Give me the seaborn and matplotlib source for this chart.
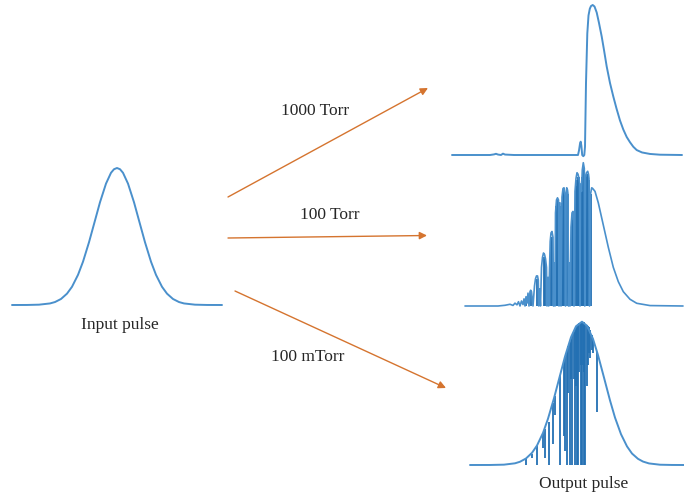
import numpy as np
import pandas as pd
import seaborn as sns
import matplotlib.pyplot as plt

# time axis in arbitrary units, amplitude normalised to each pulse's peak
input_t = [-105, -90, -78, -67, -62, -56, -50, -45, -39, -34, -28, -22, -17, -11, -6, -3, 0,
           3, 6, 11, 17, 22, 28, 34, 39, 45, 50, 56, 62, 67, 78, 90, 105]
input_amp = [0.0, 0.0003, 0.0024, 0.0114, 0.0216, 0.0439, 0.0829, 0.133, 0.220, 0.316, 0.458,
             0.617, 0.750, 0.886, 0.965, 0.991, 1.0, 0.991, 0.965, 0.886, 0.750, 0.617, 0.458,
             0.316, 0.220, 0.133, 0.0829, 0.0439, 0.0216, 0.0114, 0.0024, 0.0003, 0.0]

# 1000 Torr
out1_t = [-128, -90, -86, -84, -82, -79, -77, -75, -72, -66, -2, -1, 0.0, 0.7, 1.4, 2.2, 3.3,
          4.3, 5.0, 6.0, 7.3, 8.5, 9.8, 11, 12.7, 14.5, 16.7, 19, 21.7, 24, 26.7, 30, 33.3,
          36.5, 40, 43.3, 46.7, 50, 53.3, 56.7, 62, 70, 80, 102]
out1_amp = [0, 0, 0.004, 0.008, 0.003, 0.0, 0.009, 0.003, 0.002, 0, 0, 0.03, 0.075, 0.089,
            0.06, 0.0, -0.008, 0.0, 0.055, 0.48, 0.81, 0.93, 0.975, 0.993, 1.0, 0.99, 0.95,
            0.88, 0.79, 0.70, 0.59, 0.48, 0.39, 0.31, 0.23, 0.17, 0.12, 0.085, 0.055, 0.033,
            0.017, 0.007, 0.002, 0]

# 100 Torr
out2_t = [-115, -82, -75, -70, -67, -65, -63, -61.5, -60, -58.5, -57, -56, -55, -54, -53, -52,
          -51, -50, -49.3, -48.5, -47, -45.5, -44.5, -43.5, -42.5, -41.7, -41.2, -40.5, -39.5,
          -38.5, -37.5, -36.5, -35.5, -34.5, -33.5, -33, -32, -31.3, -30.5, -29.8, -29, -28,
          -27, -26.5, -25.5, -25, -24.5, -23.5, -22.5, -21.5, -21, -20, -19, -18, -17, -16,
          -15, -14.5, -14, -13.3, -12.5, -12, -11.5, -10.5, -10, -9, -8, -7, -6.3, -6, -5,
          -4, -3, -2, -1, -0.5, 0, 0.5, 1.5, 2.3, 3.3, 4.3, 4.8, 5.5, 6.5, 7.7, 8.5, 9, 9.5,
          10.5, 11.7, 12.7, 15, 18.3, 23.3, 28.3, 33.3, 38.3, 43.3, 50, 56.7, 70, 103]
out2_amp = [0, 0, 0.005, 0.012, 0.004, 0.02, 0.008, 0.03, 0.0, 0.035, 0.01, 0.05, 0.0, 0.065,
            0.02, 0.09, 0.0, 0.10, 0.11, 0.10, 0.0, 0.14, 0.19, 0.21, 0.21, 0.18, 0.0, 0.12,
            0.0, 0.27, 0.34, 0.37, 0.36, 0.33, 0.27, 0.0, 0.20, 0.0, 0.25, 0.45, 0.51, 0.52,
            0.48, 0.0, 0.30, 0.0, 0.65, 0.74, 0.755, 0.74, 0.0, 0.72, 0.0, 0.76, 0.82, 0.825,
            0.77, 0.0, 0.76, 0.825, 0.81, 0.78, 0.0, 0.30, 0.0, 0.55, 0.65, 0.66, 0.60, 0.0,
            0.80, 0.89, 0.93, 0.92, 0.89, 0.86, 0.0, 0.85, 0.80, 0.95, 1.0, 0.96, 0.0, 0.90,
            0.93, 0.94, 0.92, 0.89, 0.0, 0.78, 0.825, 0.82, 0.80, 0.72, 0.565, 0.41, 0.27,
            0.17, 0.10, 0.047, 0.019, 0.003, 0]
out2_bar_t = [-54.5, -49.5, -43.5, -36.5, -35.2, -29, -27.7, -24, -23, -22, -19.5, -18.5, -17,
              -16, -15.5, -13, -12.5, -8.5, -7.5, -6.8, -4.5, -3.5, -2.5, -1.5, -0.8, 1, 2, 3,
              4, 6, 7, 8, 8.8, 10.8]
out2_bar_top = [0.05, 0.10, 0.19, 0.34, 0.33, 0.48, 0.48, 0.70, 0.74, 0.74, 0.70, 0.72, 0.80,
                0.80, 0.78, 0.80, 0.78, 0.60, 0.64, 0.60, 0.84, 0.88, 0.90, 0.90, 0.86, 0.80,
                0.90, 0.97, 0.95, 0.90, 0.92, 0.92, 0.88, 0.78]

# 100 mTorr
out3_t = [-110, -90, -76, -65, -60, -54, -48, -43, -37, -32, -26, -20, -15, -9, -4, 2, 7, 13,
          18, 24, 30, 35, 41, 47, 52, 58, 63, 69, 80, 92, 104]
out3_amp = [0, 0.0002, 0.0024, 0.0118, 0.0227, 0.0455, 0.085, 0.136, 0.224, 0.323, 0.466,
            0.625, 0.757, 0.892, 0.968, 1.0, 0.972, 0.880, 0.767, 0.610, 0.451, 0.331, 0.215,
            0.130, 0.080, 0.043, 0.024, 0.011, 0.002, 0.0003, 0]
out3_spike_t = [-54, -48.5, -43, -37, -35, -31.5, -27, -25.5, -20, -16, -15, -13.3, -12, -10.5,
                -9.5, -8, -6.5, -5, -4.2, -3.5, -2.6, -1.7, -0.8, 0.5, 1.2, 2, 2.8, 3.5, 4.3,
                5, 6.7, 7.6, 8.5, 10, 11.7, 13, 17.3]
out3_spike_top = [0.045, 0.08, 0.135, 0.22, 0.25, 0.30, 0.43, 0.48, 0.625, 0.73, 0.757, 0.80,
                  0.83, 0.86, 0.88, 0.91, 0.93, 0.95, 0.96, 0.97, 0.98, 0.985, 0.99, 0.995,
                  0.998, 1.0, 0.998, 0.995, 0.99, 0.98, 0.975, 0.97, 0.96, 0.94, 0.91, 0.88,
                  0.79]
out3_spike_low = [0.0, 0.05, 0.0, 0.12, 0.05, 0.0, 0.15, 0.35, 0.0, 0.2, 0.10, 0.0, 0.5, 0.0,
                  0.6, 0.0, 0.6, 0.0, 0.55, 0.0, 0.6, 0.0, 0.65, 0.0, 0.7, 0.0, 0.7, 0.0,
                  0.65, 0.0, 0.55, 0.7, 0.78, 0.75, 0.8, 0.78, 0.37]

pressures = ['1000 Torr', '100 Torr', '100 mTorr']

sns.set_style('white')
plt.rcParams['font.family'] = ['Liberation Serif', 'DejaVu Serif']

W, H = 684, 495
line_c = '#4a90cc'
fill_c = '#2370b3'
arrow_c = '#d5742f'

fig = plt.figure(figsize=(W / 100, H / 100), dpi=100)

# overlay in pixel coordinates for arrows and labels
bg = fig.add_axes([0, 0, 1, 1])
bg.set_xlim(0, W)
bg.set_ylim(H, 0)
bg.axis('off')


def pulse_axes(x0, x1, y_base, y_top, xlim):
    # amplitude 0 sits at y_base px, amplitude 1 at y_top px
    ax = fig.add_axes([x0 / W, 1 - y_base / H, (x1 - x0) / W, (y_base - y_top) / H])
    ax.set_xlim(xlim)
    ax.set_ylim(0, 1)
    ax.axis('off')
    return ax


ax_in = pulse_axes(12, 222, 305, 168, (-105, 105))
sns.lineplot(x=input_t, y=input_amp, ax=ax_in, color=line_c, lw=1.4,
             sort=False, estimator=None, clip_on=False)

out_xlim = (-128, 104)
ax1 = pulse_axes(452, 684, 155, 5, out_xlim)
sns.lineplot(x=out1_t, y=out1_amp, ax=ax1, color=line_c, lw=1.4,
             sort=False, estimator=None, clip_on=False)

ax2 = pulse_axes(452, 684, 306, 162.7, out_xlim)
ax2.vlines(out2_bar_t, 0, out2_bar_top, color=fill_c, lw=1.3, clip_on=False)
sns.lineplot(x=out2_t, y=out2_amp, ax=ax2, color=line_c, lw=1.2,
             sort=False, estimator=None, clip_on=False)

ax3 = pulse_axes(452, 684, 465, 321.7, out_xlim)
ax3.vlines(out3_spike_t, out3_spike_low, out3_spike_top, color=fill_c, lw=1.3, clip_on=False)
sns.lineplot(x=out3_t, y=out3_amp, ax=ax3, color=line_c, lw=1.4,
             sort=False, estimator=None, clip_on=False)

# arrows from input to each output
arrows = [((228, 197), (428, 88)), ((228, 238), (427, 235.5)), ((235, 291), (446, 388))]
for (start, end) in arrows:
    bg.annotate('', xy=end, xytext=start,
                arrowprops=dict(arrowstyle='-|>', color=arrow_c, lw=1.0,
                                mutation_scale=11, shrinkA=0, shrinkB=0))

label_pos = [(315, 111), (330, 215), (308, 357)]
for text, (x, y) in zip(pressures, label_pos):
    bg.text(x, y, text, ha='center', va='center', fontsize=12.5)

bg.text(120, 325, 'Input pulse', ha='center', va='center', fontsize=12.5)
bg.text(584, 484, 'Output pulse', ha='center', va='center', fontsize=12.5)

fig.savefig('out.png', dpi=100)
